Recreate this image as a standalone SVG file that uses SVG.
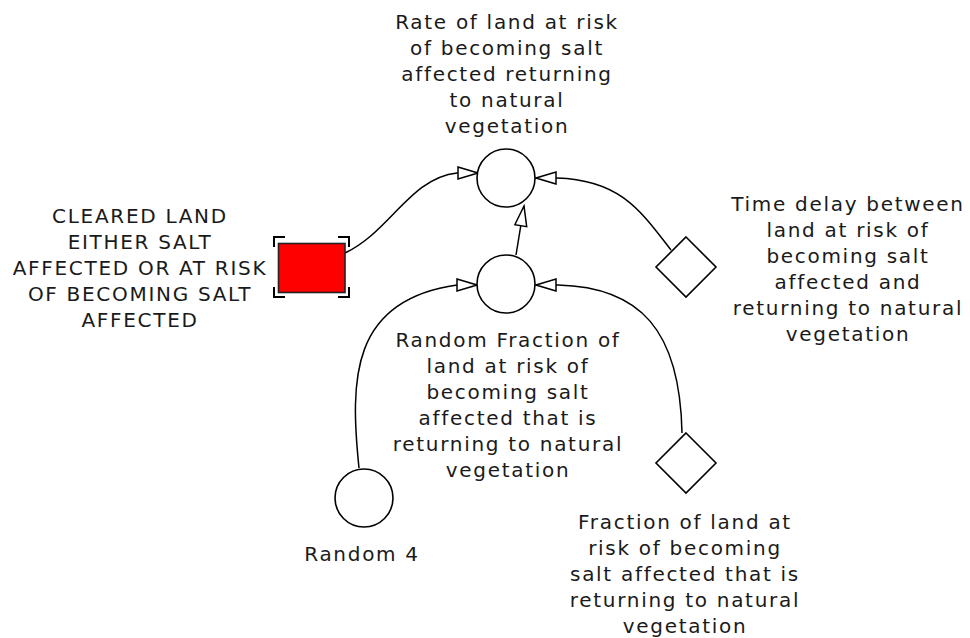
<svg xmlns="http://www.w3.org/2000/svg" width="970" height="638" viewBox="0 0 970 638">
<defs>
<style>
.lbl{font-family:"DejaVu Sans",Verdana,sans-serif;font-size:20px;letter-spacing:1.7px;fill:#1a1a1a;text-anchor:middle}
.node{fill:#fff;stroke:#000;stroke-width:1.6}
.conn{fill:none;stroke:#000;stroke-width:1.5}
.brk{fill:none;stroke:#000;stroke-width:2}
</style>
<marker id="arr" viewBox="-2 -8 24 16" markerWidth="24" markerHeight="16" refX="20" refY="0" orient="auto" markerUnits="userSpaceOnUse">
<path d="M0,-6 L20,0 L0,6 Z" fill="#fff" stroke="#000" stroke-width="1.5"/>
</marker>
</defs>
<rect width="970" height="638" fill="#fff"/>
<g id="connectors">
<path class="conn" d="M345,253 C390,232 410,178 457,173 L478,173" marker-end="url(#arr)"/>
<path class="conn" d="M671,250 C640,210 620,180 557,178 L536,178" marker-end="url(#arr)"/>
<path class="conn" d="M516,255 L524,206" marker-end="url(#arr)"/>
<path class="conn" d="M359,468 C350,380 350,300 457,285 L477,285" marker-end="url(#arr)"/>
<path class="conn" d="M682,433 C680,330 640,287 558,285 L536,285" marker-end="url(#arr)"/>
</g>
<g id="rate">
<circle class="node" cx="506" cy="178" r="29"/>
<text class="lbl"><tspan x="507" y="29">Rate of land at risk</tspan><tspan x="507" y="55">of becoming salt</tspan><tspan x="507" y="81">affected returning</tspan><tspan x="507" y="107">to natural</tspan><tspan x="507" y="133">vegetation</tspan></text>
</g>
<g id="cleared">
<rect x="278.5" y="243.5" width="66.5" height="49" fill="#ff0000" stroke="#222" stroke-width="1.6"/>
<path class="brk" d="M274,247 V237 H285 M338,237 H349 V247 M349,287 V297 H338 M285,297 H274 V287"/>
<text class="lbl"><tspan x="140" y="223">CLEARED LAND</tspan><tspan x="140" y="249">EITHER SALT</tspan><tspan x="140" y="275">AFFECTED OR AT RISK</tspan><tspan x="140" y="301">OF BECOMING SALT</tspan><tspan x="140" y="327">AFFECTED</tspan></text>
</g>
<g id="randomFraction">
<circle class="node" cx="506" cy="284" r="29"/>
<text class="lbl"><tspan x="508" y="347">Random Fraction of</tspan><tspan x="508" y="373">land at risk of</tspan><tspan x="508" y="399">becoming salt</tspan><tspan x="508" y="425">affected that is</tspan><tspan x="508" y="451">returning to natural</tspan><tspan x="508" y="477">vegetation</tspan></text>
</g>
<g id="timeDelay">
<polygon class="node" points="686,237 716,267 686,297 656,267"/>
<text class="lbl"><tspan x="848" y="211">Time delay between</tspan><tspan x="848" y="237">land at risk of</tspan><tspan x="848" y="263">becoming salt</tspan><tspan x="848" y="289">affected and</tspan><tspan x="848" y="315">returning to natural</tspan><tspan x="848" y="341">vegetation</tspan></text>
</g>
<g id="fraction">
<polygon class="node" points="686,433 716,463 686,493 656,463"/>
<text class="lbl"><tspan x="685" y="529">Fraction of land at</tspan><tspan x="685" y="555">risk of becoming</tspan><tspan x="685" y="581">salt affected that is</tspan><tspan x="685" y="607">returning to natural</tspan><tspan x="685" y="633">vegetation</tspan></text>
</g>
<g id="random4">
<circle class="node" cx="364" cy="498" r="29"/>
<text class="lbl" x="362" y="561">Random 4</text>
</g>
</svg>
